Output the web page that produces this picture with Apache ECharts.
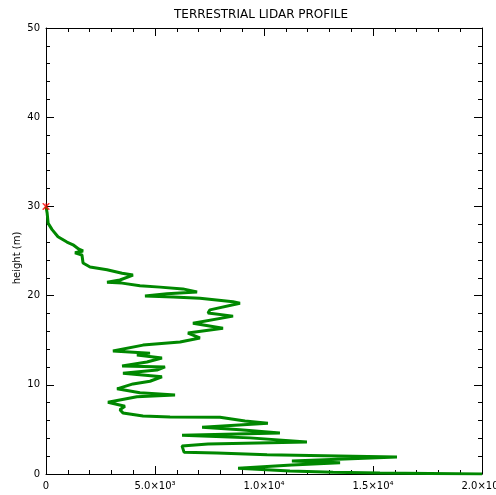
<!DOCTYPE html>
<html><head><meta charset="utf-8">
<script src="https://cdn.jsdelivr.net/npm/echarts@6/dist/echarts.min.js"></script>
<style>html,body{margin:0;padding:0;background:#fff}#c{width:496px;height:495px}</style>
</head><body><div id="c"></div>
<script>
// profile values (x) and heights in metres (y), in sample order
const profileValues = [0,50,100,280,550,960,1240,1510,1700,1330,1650,1700,2020,2800,3490,3990,3390,2800,3490,4310,5230,6280,6930,5550,4540,5830,7060,8580,8900,7520,7430,8580,6740,8120,6510,7060,6150,4450,3070,4770,4170,5320,4630,3490,5460,5090,3530,5320,4770,3990,3260,4310,5920,4170,2840,3620,3390,3530,4450,5690,7980,9130,10180,7160,8900,10730,6240,9360,11970,7430,6240,6330,7840,10140,14080,16100,11280,13490,11280,8810,11190,13170,15320,17610,20000];
const profileHeights = [30,29.3,28.1,27.4,26.6,26.0,25.7,25.2,25.0,24.8,24.55,23.65,23.2,22.9,22.5,22.3,21.75,21.5,21.4,21.1,20.95,20.75,20.4,20.2,19.95,19.85,19.7,19.3,19.15,18.4,18.05,17.7,16.9,16.35,15.8,15.25,14.8,14.45,13.8,13.55,13.35,13.0,12.55,12.1,12.0,11.65,11.3,10.9,10.4,10.1,9.55,9.1,8.85,8.65,8.05,7.6,7.2,6.85,6.5,6.4,6.35,5.95,5.7,5.25,4.95,4.6,4.35,4.05,3.6,3.35,3.15,2.45,2.35,2.15,2.0,1.9,1.45,1.25,1.0,0.65,0.35,0.2,0.1,0.05,0];
const topPoint = [0, 30];
const xTickValues = [0,5000,10000,15000,20000];
const xTickLabels = ['0','5.0×10³','1.0×10⁴','1.5×10⁴','2.0×10⁴'];
const yTickLabels = ['0','10','20','30','40','50'];

const chart = echarts.init(document.getElementById('c'), null, {renderer:'canvas'});
const lineData = profileValues.map((v,i)=>[v, profileHeights[i]]);
const font = 'DejaVu Sans';
function axisCommon(){ return {
  axisLine:{show:true, onZero:false, lineStyle:{color:'#000', width:1}},
  axisTick:{show:true, inside:true, length:8, lineStyle:{color:'#000'}},
  minorTick:{show:true, splitNumber:5, length:4, lineStyle:{color:'#000'}},
  splitLine:{show:false}
};}
chart.setOption({
  animation:false,
  title:{text:'TERRESTRIAL LIDAR PROFILE', left:256, top:4, textAlign:'center',
    textStyle:{fontFamily:font, fontSize:12, fontWeight:'normal', color:'#000'}},
  grid:{left:46, right:14, top:28, bottom:21, containLabel:false, outerBoundsMode:'none'},
  xAxis:[
    Object.assign({type:'value', min:0, max:20000, interval:5000, position:'bottom',
      axisLabel:{fontFamily:font, fontSize:10, color:'#000', margin:7, hideOverlap:false,
        formatter:(v)=>{const i=xTickValues.indexOf(v);return i>=0?xTickLabels[i]:'';}}}, axisCommon()),
    Object.assign({type:'value', min:0, max:20000, interval:5000, position:'top', axisLabel:{show:false}}, axisCommon())
  ],
  yAxis:[
    Object.assign({type:'value', min:0, max:50, interval:10, position:'left',
      name:'height (m)', nameLocation:'middle', nameGap:24, nameMoveOverlap:false,
      nameTextStyle:{fontFamily:font, fontSize:10, color:'#000', padding:[0,14,0,0]},
      axisLabel:{fontFamily:font, fontSize:10, color:'#000', margin:6,
        formatter:(v)=>yTickLabels[Math.round(v/10)]}}, axisCommon()),
    Object.assign({type:'value', min:0, max:50, interval:10, position:'right', axisLabel:{show:false}}, axisCommon())
  ],
  series:[
    {type:'line', data:lineData, xAxisIndex:0, yAxisIndex:0, showSymbol:false, symbol:'none',
      lineStyle:{color:'#008800', width:3}, clip:true},
    {type:'scatter', data:[topPoint], xAxisIndex:0, yAxisIndex:0, symbolSize:7,
      symbol:'path://M0,0L1.5,0L5,3.5L8.5,0L10,0L10,1.5L6.5,5L10,8.5L10,10L8.5,10L5,6.5L1.5,10L0,10L0,8.5L3.5,5L0,1.5Z M4.4,0L5.6,0L5.6,10L4.4,10Z',
      itemStyle:{color:'#ff0000'}, z:5}
  ]
});
</script></body></html>
